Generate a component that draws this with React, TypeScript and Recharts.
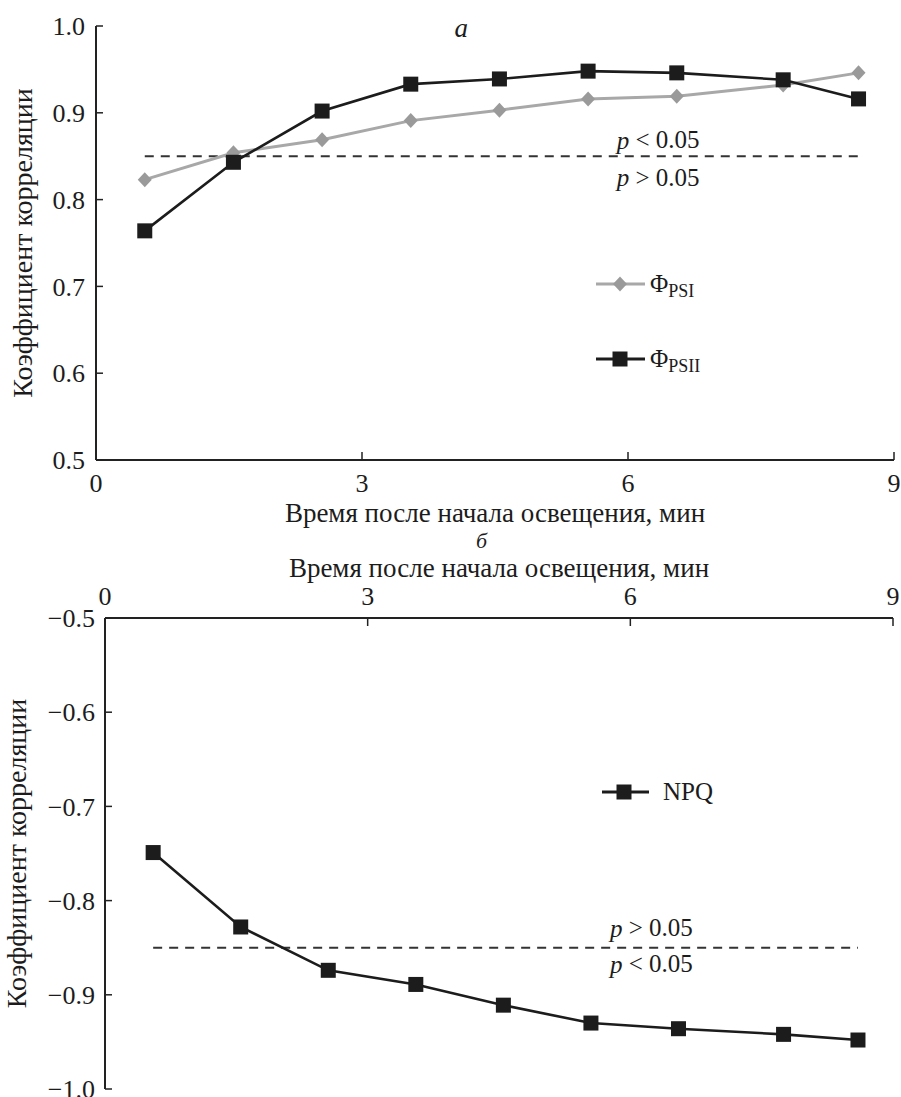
import React from 'react';
import { LineChart, Line, XAxis, YAxis, ReferenceLine, ReferenceDot, Legend } from 'recharts';

const FONT = '"Liberation Serif", "Times New Roman", serif';
const INK = '#1c1c1c';
const GRAY_LINE = '#a8a8a8';
const GRAY_MARK = '#9a9a9a';

// ---- data ----
const times = [0.55, 1.55, 2.55, 3.55, 4.55, 5.55, 6.55, 7.75, 8.6];
const phiPSI = [0.823, 0.854, 0.869, 0.891, 0.903, 0.916, 0.919, 0.932, 0.946];
const phiPSII = [0.764, 0.843, 0.902, 0.933, 0.939, 0.948, 0.946, 0.938, 0.916];
const npq = [-0.749, -0.828, -0.874, -0.889, -0.911, -0.93, -0.936, -0.942, -0.948];
const xTicks = [0, 3, 6, 9];
const yTicksTop = [0.5, 0.6, 0.7, 0.8, 0.9, 1.0];
const yTicksBottom = [-1.0, -0.9, -0.8, -0.7, -0.6, -0.5];
const thresholdTop = 0.85;
const thresholdBottom = -0.85;
const thresholdSpan = [0.55, 8.6];
const xTitle = 'Время после начала освещения, мин';
const yTitle = 'Коэффициент корреляции';

const dataTop = times.map((t, i) => ({ t, psi: phiPSI[i], psii: phiPSII[i] }));
const dataBottom = times.map((t, i) => ({ t, npq: npq[i] }));

const fmtTop = (v: number) => v.toFixed(1);
const fmtBottom = (v: number) => (v < 0 ? '\u2212' + Math.abs(v).toFixed(1) : v.toFixed(1));

const SquareDot = (props: any) => {
  const { cx, cy, index, dataKey } = props;
  if (cx == null || cy == null) return <g key={`sq-${dataKey}-${index}`} />;
  const s = 15;
  return <rect key={`sq-${dataKey}-${index}`} x={cx - s / 2} y={cy - s / 2} width={s} height={s} fill={INK} />;
};

const DiamondDot = (props: any) => {
  const { cx, cy, index, dataKey } = props;
  if (cx == null || cy == null) return <g key={`dm-${dataKey}-${index}`} />;
  const w = 7, h = 7.5;
  return (
    <path
      key={`dm-${dataKey}-${index}`}
      d={`M${cx},${cy - h} L${cx + w},${cy} L${cx},${cy + h} L${cx - w},${cy} Z`}
      fill={GRAY_MARK}
    />
  );
};

const PText = (sign: string) => (props: any) => {
  const { cx, cy } = props;
  return (
    <text x={cx} y={cy} textAnchor="middle" dominantBaseline="central" fontFamily={FONT} fontSize={25} fill={INK}>
      <tspan fontStyle="italic">p</tspan>
      {` ${sign} 0.05`}
    </text>
  );
};

const Letter = (ch: string, size: number) => (props: any) => {
  const { cx, cy } = props;
  return (
    <text x={cx} y={cy} textAnchor="middle" dominantBaseline="central" fontFamily={FONT} fontSize={size} fontStyle="italic" fill={INK}>
      {ch}
    </text>
  );
};

const xTitleAt = (dy: number) => (props: any) => {
  const vb = props.viewBox || {};
  return (
    <text x={vb.x + vb.width / 2} y={vb.y + dy} textAnchor="middle" fontFamily={FONT} fontSize={27} fill={INK}>
      {xTitle}
    </text>
  );
};

const yTitleAt = (cxAbs: number) => (props: any) => {
  const vb = props.viewBox || {};
  const cx = vb.x + cxAbs;
  const cy = vb.y + vb.height / 2;
  return (
    <text
      x={cx}
      y={cy}
      transform={`rotate(-90 ${cx} ${cy})`}
      textAnchor="middle"
      dominantBaseline="central"
      fontFamily={FONT}
      fontSize={28}
      fill={INK}
    >
      {yTitle}
    </text>
  );
};

const TopLegend = () => (
  <svg width={160} height={120} style={{ display: 'block', overflow: 'visible' }}>
    <line x1={6} y1={24} x2={55} y2={24} stroke={GRAY_LINE} strokeWidth={3} />
    <path d="M30,16.5 L37,24 L30,31.5 L23,24 Z" fill={GRAY_MARK} />
    <text x={60} y={32} fontFamily={FONT} fontSize={25} fill={INK}>
      Φ<tspan fontSize={18} dy={5}>PSI</tspan>
    </text>
    <line x1={6} y1={99} x2={55} y2={99} stroke={INK} strokeWidth={3} />
    <rect x={22.5} y={91.5} width={15} height={15} fill={INK} />
    <text x={60} y={107} fontFamily={FONT} fontSize={25} fill={INK}>
      Φ<tspan fontSize={18} dy={5}>PSII</tspan>
    </text>
  </svg>
);

const BottomLegend = () => (
  <svg width={160} height={50} style={{ display: 'block', overflow: 'visible' }}>
    <line x1={2} y1={24} x2={49} y2={24} stroke={INK} strokeWidth={3} />
    <rect x={16.5} y={16.5} width={15} height={15} fill={INK} />
    <text x={63} y={32} fontFamily={FONT} fontSize={25} fill={INK}>
      NPQ
    </text>
  </svg>
);

const tickStyle = { fontSize: 26, fill: INK, fontFamily: FONT };
const axisLineStyle = { stroke: '#222', strokeWidth: 2 };
const tickLineStyle = { stroke: '#222', strokeWidth: 1.5 };

export default function App() {
  return (
    <div style={{ position: 'relative', width: 901, height: 1097, background: '#fff', overflow: 'hidden', fontFamily: FONT }}>
      <style>{`body{margin:0;background:#fff} .recharts-surface{overflow:visible} svg text{font-family:${FONT}}`}</style>
      <div style={{ position: 'absolute', left: 0, top: 0 }}>
        <LineChart width={901} height={540} data={dataTop} margin={{ top: 26, right: 7, bottom: 0, left: 0 }}>
          <XAxis
            dataKey="t"
            type="number"
            domain={[0, 9]}
            ticks={xTicks}
            interval={0}
            allowDataOverflow
            height={80}
            tickSize={-8}
            tickMargin={22}
            stroke="#222"
            axisLine={axisLineStyle}
            tickLine={tickLineStyle}
            tick={tickStyle}
            label={xTitleAt(62)}
          />
          <YAxis
            type="number"
            domain={[0.5, 1.0]}
            ticks={yTicksTop}
            interval={0}
            allowDataOverflow
            width={96}
            tickFormatter={fmtTop}
            tickSize={-7}
            tickMargin={18}
            stroke="#222"
            axisLine={axisLineStyle}
            tickLine={tickLineStyle}
            tick={tickStyle}
            label={yTitleAt(22)}
          />
          <ReferenceLine
            segment={[
              { x: thresholdSpan[0], y: thresholdTop },
              { x: thresholdSpan[1], y: thresholdTop },
            ]}
            stroke="#333"
            strokeWidth={2}
            strokeDasharray="9 7"
          />
          <ReferenceDot x={6.34} y={0.869} r={0} shape={PText('<')} />
          <ReferenceDot x={6.34} y={0.826} r={0} shape={PText('>')} />
          <ReferenceDot x={4.12} y={0.998} r={0} shape={Letter('a', 27)} ifOverflow="visible" />
          <Line
            dataKey="psi"
            name="ΦPSI"
            stroke={GRAY_LINE}
            strokeWidth={3}
            dot={DiamondDot}
            activeDot={false}
            isAnimationActive={false}
          />
          <Line
            dataKey="psii"
            name="ΦPSII"
            stroke={INK}
            strokeWidth={2.6}
            dot={SquareDot}
            activeDot={false}
            isAnimationActive={false}
          />
          <Legend
            layout="vertical"
            align="center"
            verticalAlign="middle"
            content={() => <TopLegend />}
            wrapperStyle={{ position: 'absolute', left: 590, top: 260, width: 160, height: 120 }}
          />
        </LineChart>
      </div>
      <div style={{ position: 'absolute', left: 0, top: 540 }}>
        <LineChart width={901} height={557} data={dataBottom} margin={{ top: 0, right: 8, bottom: 8, left: 0 }}>
          <XAxis
            dataKey="t"
            type="number"
            orientation="top"
            domain={[0, 9]}
            ticks={xTicks}
            interval={0}
            allowDataOverflow
            height={78}
            tickSize={-8}
            tickMargin={21}
            stroke="#222"
            axisLine={axisLineStyle}
            tickLine={tickLineStyle}
            tick={tickStyle}
            label={xTitleAt(37)}
          />
          <YAxis
            type="number"
            domain={[-1.0, -0.5]}
            ticks={yTicksBottom}
            interval={0}
            allowDataOverflow
            width={105}
            tickFormatter={fmtBottom}
            tickSize={-7}
            tickMargin={17}
            stroke="#222"
            axisLine={axisLineStyle}
            tickLine={tickLineStyle}
            tick={tickStyle}
            label={yTitleAt(16)}
          />
          <ReferenceLine
            segment={[
              { x: thresholdSpan[0], y: thresholdBottom },
              { x: thresholdSpan[1], y: thresholdBottom },
            ]}
            stroke="#333"
            strokeWidth={2}
            strokeDasharray="9 7"
          />
          <ReferenceDot x={6.24} y={-0.829} r={0} shape={PText('>')} />
          <ReferenceDot x={6.24} y={-0.867} r={0} shape={PText('<')} />
          <ReferenceDot x={4.3} y={-0.4175} r={0} shape={Letter('б', 22)} ifOverflow="visible" />
          <Line
            dataKey="npq"
            name="NPQ"
            stroke={INK}
            strokeWidth={2.6}
            dot={SquareDot}
            activeDot={false}
            isAnimationActive={false}
          />
          <Legend
            layout="vertical"
            align="center"
            verticalAlign="middle"
            content={() => <BottomLegend />}
            wrapperStyle={{ position: 'absolute', left: 600, top: 228, width: 160, height: 50 }}
          />
        </LineChart>
      </div>
    </div>
  );
}
